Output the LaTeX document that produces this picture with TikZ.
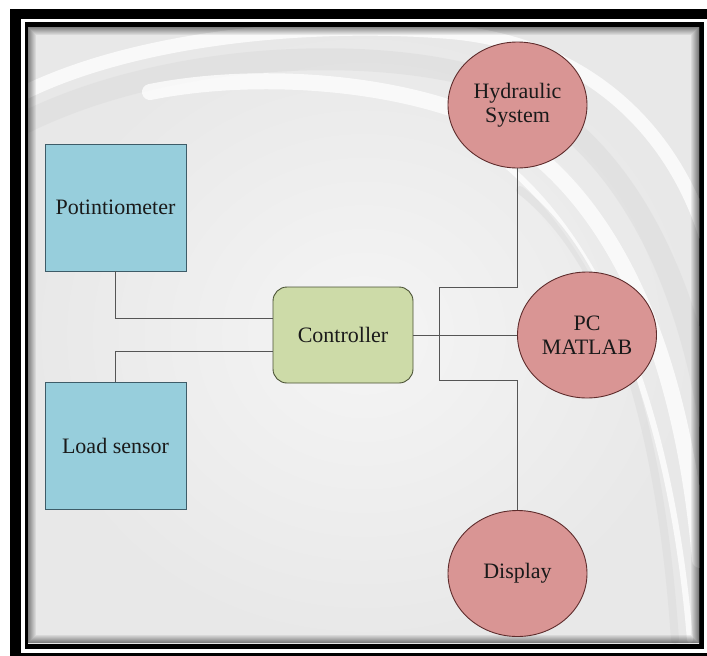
\documentclass[tikz,border=0pt]{standalone}
\usepackage{fontspec}
\setmainfont{Liberation Serif}
\usetikzlibrary{shapes.geometric}
\definecolor{boxfill}{HTML}{97CEDC}
\definecolor{boxline}{HTML}{3E5C68}
\definecolor{ctlfill}{HTML}{CDDBA8}
\definecolor{ctlline}{HTML}{4A5235}
\definecolor{circfill}{HTML}{D99594}
\definecolor{circline}{HTML}{5E2C2C}
\definecolor{wire}{HTML}{555555}
\definecolor{txt}{HTML}{1A1A1A}
\definecolor{bgout}{HTML}{E8E8E8}
\definecolor{bgin}{HTML}{F5F5F5}
\definecolor{swgray}{HTML}{DCDCDC}
\begin{document}
\begin{tikzpicture}[x=1pt,y=-1pt,
  lbl/.style={text=txt, font=\fontsize{22}{24}\selectfont, align=center},
  sensorbox/.style={lbl, draw=boxline, fill=boxfill, line width=0.9pt,
    minimum width=141pt, minimum height=127pt, inner sep=0pt},
  ctlbox/.style={lbl, draw=ctlline, fill=ctlfill, line width=0.9pt, rounded corners=14pt,
    minimum width=140pt, minimum height=96pt, inner sep=0pt},
  outcirc/.style={lbl, ellipse, draw=circline, fill=circfill, line width=0.9pt,
    minimum width=139pt, minimum height=126pt, inner sep=0pt},
  wireline/.style={draw=wire, line width=1pt},
  swwhite/.style={draw=white, opacity=0.75, line cap=round},
  swdark/.style={draw=swgray, opacity=0.55, line cap=round}]
\useasboundingbox (0,0) rectangle (707,656);
% frame
\fill[white] (0,0) rectangle (707,656);
\fill[black] (10,9) rectangle (707,656);
\fill[white] (21,19) rectangle (707,653);
\fill[black] (24.5,22) rectangle (704,649);
% content background
\shade[inner color=bgin, outer color=bgout] (28,27) rectangle (699,643);
\begin{scope}
  \clip (28,27) rectangle (699,643);
  \draw[swdark, line width=22pt] (10,130) .. controls (150,55) and (350,45) .. (470,75)
        .. controls (600,110) and (690,250) .. (715,460);
  \draw[swwhite, line width=14pt] (10,100) .. controls (120,40) and (300,20) .. (450,32)
        .. controls (600,45) and (700,150) .. (720,300);
  \draw[swwhite, line width=16pt] (150,92) .. controls (250,72) and (380,80) .. (470,115)
        .. controls (600,170) and (680,330) .. (700,560);
  \draw[swwhite, line width=6pt] (500,160) .. controls (600,240) and (670,400) .. (690,640);
  \draw[swdark, line width=8pt] (520,190) .. controls (610,260) and (660,420) .. (675,640);
  \foreach \i [evaluate=\i as \op using 0.45-0.055*\i] in {0,...,7}
    \draw[black, opacity=\op, line width=1pt]
      ({28.5+\i},{27.5+\i}) rectangle ({698.5-\i},{642.5-\i});
\end{scope}
% nodes
\node[sensorbox] (pot) at (115.5,207.5) {Potintiometer};
\node[sensorbox] (load) at (115.5,445.5) {Load sensor};
\node[ctlbox] (ctl) at (343,335) {Controller};
\node[outcirc] (hyd) at (517.5,105) {Hydraulic\\System};
\node[outcirc] (pc) at (587,335) {PC\\MATLAB};
\node[outcirc] (disp) at (517.5,573.5) {Display};
\coordinate (j1) at (439,287);
\coordinate (j2) at (439,380);
% connectors
\draw[wireline] (pot.south) |- ([yshift=17pt]ctl.west);
\draw[wireline] (load.north) |- ([yshift=-16pt]ctl.west);
\draw[wireline] (ctl.east) -- (pc.west);
\draw[wireline] (j1) -- (j2);
\draw[wireline] (j1) -| (hyd.south);
\draw[wireline] (j2) -| (disp.north);
\end{tikzpicture}
\end{document}
